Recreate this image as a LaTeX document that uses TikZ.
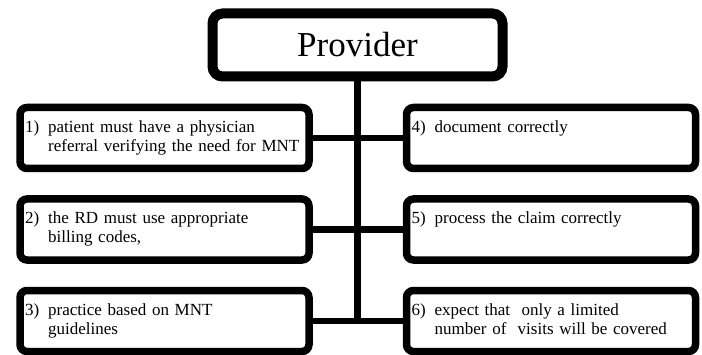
\documentclass[tikz,border=0pt]{standalone}
\usepackage{fontspec}
\setmainfont{Liberation Serif}
\usepackage{tikz}
\tikzstyle{provider} = [rectangle, rounded corners=10pt, minimum width=290pt, minimum height=63pt, text centered, draw=black, line width=10pt, font=\fontsize{35pt}{40pt}\selectfont]
\tikzstyle{stepbox} = [rectangle, rounded corners=7pt, minimum width=289pt, minimum height=61pt, text width=279pt, align=left, inner xsep=5pt, draw=black, line width=7.5pt, font=\fontsize{17pt}{19pt}\selectfont]
\tikzstyle{link} = [line width=6.5pt]

\newcommand{\numitem}[3]{\begin{tabular}{@{}l@{\hspace{9pt}}l@{}}#1 & #2\\ & #3\end{tabular}}

\begin{document}
\begin{tikzpicture}[node distance=91.5pt]
    \useasboundingbox (0,0) rectangle (702pt,354pt);
    \node (prov) [provider] at (357.5pt,309pt) {Provider};
    % left column
    \node (l1) [stepbox] at (164.5pt,216pt) {\numitem{1)}{patient must have a physician}{referral verifying the need for MNT}};
    \node (l2) [stepbox, below of=l1] {\numitem{2)}{the RD must use appropriate}{billing codes,}};
    \node (l3) [stepbox, below of=l2] {\numitem{3)}{practice based on MNT}{guidelines}};
    % right column
    \node (r1) [stepbox] at (551pt,216pt) {\numitem{4)}{document correctly}{}};
    \node (r2) [stepbox, below of=r1] {\numitem{5)}{process the claim correctly}{}};
    \node (r3) [stepbox, below of=r2] {\numitem{6)}{expect that\ \ only a limited}{number of\ \ visits will be covered}};

    \coordinate (end) at (prov |- l3);
    \draw [link] (prov) -- (end);
    \draw [link] (l1) -- (r1);
    \draw [link] (l2) -- (r2);
    \draw [link] (l3) -- (r3);
  \end{tikzpicture}
\end{document}
